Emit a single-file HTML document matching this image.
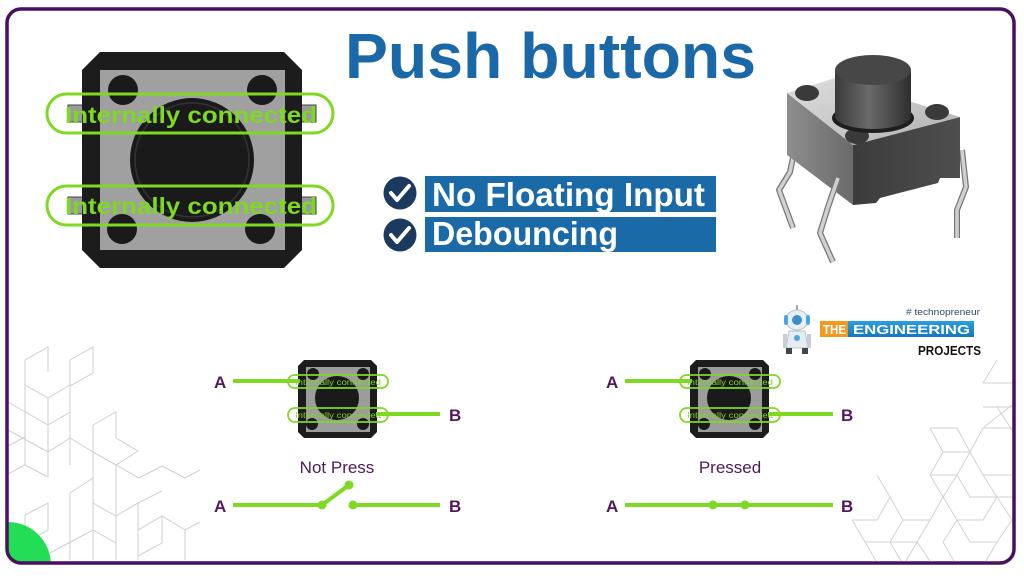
<!DOCTYPE html>
<html>
<head>
<meta charset="utf-8">
<style>
  html,body{margin:0;padding:0;background:#fff;}
  html,body{width:1024px;height:578px;overflow:hidden;}
  svg{display:block;}
  text{font-family:"Liberation Sans", sans-serif;}
</style>
</head>
<body>
<svg width="1024" height="578" viewBox="0 0 1024 578" xmlns="http://www.w3.org/2000/svg">
  <defs>
    <linearGradient id="topface" x1="0" y1="0" x2="1" y2="1">
      <stop offset="0" stop-color="#dedede"/>
      <stop offset="0.6" stop-color="#c4c4c4"/>
      <stop offset="1" stop-color="#acacac"/>
    </linearGradient>
    <linearGradient id="leftface" x1="0" y1="0" x2="1" y2="0">
      <stop offset="0" stop-color="#8e8e8e"/>
      <stop offset="1" stop-color="#6a6a6a"/>
    </linearGradient>
    <linearGradient id="rightface" x1="0" y1="0" x2="1" y2="0">
      <stop offset="0" stop-color="#3c3c3c"/>
      <stop offset="1" stop-color="#4e4e4e"/>
    </linearGradient>
    <linearGradient id="cyl" x1="0" y1="0" x2="1" y2="0">
      <stop offset="0" stop-color="#3a3a3a"/>
      <stop offset="0.45" stop-color="#6a6a6a"/>
      <stop offset="1" stop-color="#2e2e2e"/>
    </linearGradient>
    <linearGradient id="blueband" x1="0" y1="0" x2="0" y2="1">
      <stop offset="0" stop-color="#2a9ee0"/>
      <stop offset="1" stop-color="#1476bf"/>
    </linearGradient>
    <clipPath id="inner">
      <rect x="7" y="9" width="1007" height="554" rx="14" ry="14"/>
    </clipPath>
  </defs>

  <!-- background pattern lines left -->
  <g stroke="#cfcfcf" stroke-width="1" fill="none">
    <path d="M25 360 L25 465 M25 360 L48 347 L48 372 M25 385 L48 398 L70 385 M48 398 L48 477 M70 360 L93 347 L93 373 L70 386 M70 360 L70 465"/>
    <path d="M8 402 L48 425 L70 412 M8 430 L48 452 L70 438 M8 446 L25 437 M8 474 L25 465 L48 477"/>
    <path d="M70 438 L93 452 L116 465 L139 478 L162 466 L185 478 L200 470"/>
    <path d="M93 425 L116 412 L116 438 L138 451 L116 465 L93 452 M93 425 L93 560"/>
    <path d="M70 493 L93 478 M70 493 L70 560 M116 465 L116 560 M93 503 L116 516 L138 503 L162 491 M138 503 L138 560"/>
    <path d="M25 515 L48 503 L48 530 L25 543 M25 515 L25 540"/>
    <path d="M50 553 L93 530 L116 543 M138 530 L162 516 L185 530 L185 560 M138 530 L138 560 M162 516 L162 543 L138 556 M185 530 L200 522"/>
  </g>

  <!-- background pattern lines right -->
  <g stroke="#d2d2d2" stroke-width="1" fill="none">
    <path d="M983 383 L1012 383 M983 383 L997 360 M997 407 L1012 407 M983 407 L997 407 L1012 430"/>
    <path d="M930 428 L957 428 L970 452 L957 475 L930 475 L943 452 L930 428 M943 452 L970 452 L983 475 L1012 475 M970 452 L983 428 L1012 428 M957 475 L970 497 L1012 497 M983 475 L997 497 M983 428 L1012 405"/>
    <path d="M852 520 L877 520 L890 497 L903 520 L930 520 L943 497 L957 520 L983 520 L997 497 L1012 520"/>
    <path d="M852 520 L865 542 L890 542 L903 520 M890 542 L917 542 L930 520 M917 542 L930 561 M943 497 L930 475 M943 497 L957 475 M957 520 L970 542 L997 542 L1012 520 M865 542 L876 561 M890 542 L901 561 M917 542 L906 561 M943 542 L957 520 M943 542 L954 561 M997 542 L986 561 M890 497 L877 475"/>
  </g>

  <!-- green quarter circle -->
  <g clip-path="url(#inner)">
    <path d="M8 522 A43 43 0 0 1 51 565 L8 565 Z" fill="#22dd55"/>
  </g>

  <!-- border -->
  <rect x="7" y="9" width="1007" height="554" rx="14" ry="14" fill="none" stroke="#4a0f5e" stroke-width="3.5"/>

  <!-- Title -->
  <text x="345" y="78" font-size="64" font-weight="bold" fill="#1a68a8" textLength="411" lengthAdjust="spacingAndGlyphs">Push buttons</text>

  <!-- Left big push button top view -->
  <g>
    <rect x="68" y="105" width="16" height="17" fill="#9a9a9a" stroke="#444" stroke-width="1"/>
    <rect x="300" y="105" width="16" height="17" fill="#9a9a9a" stroke="#444" stroke-width="1"/>
    <rect x="68" y="197" width="16" height="17" fill="#9a9a9a" stroke="#444" stroke-width="1"/>
    <rect x="300" y="197" width="16" height="17" fill="#9a9a9a" stroke="#444" stroke-width="1"/>
    <polygon points="100,52 284,52 302,70 302,250 284,268 100,268 82,250 82,70" fill="#1c1c1c"/>
    <rect x="100" y="70" width="185" height="180" fill="#a0a0a0"/>
    <circle cx="123" cy="90" r="15" fill="#1a1a1a"/>
    <circle cx="262" cy="90" r="15" fill="#1a1a1a"/>
    <circle cx="122" cy="229" r="15" fill="#1a1a1a"/>
    <circle cx="260" cy="229" r="15" fill="#1a1a1a"/>
    <circle cx="192" cy="160" r="62" fill="#1a1a1a"/>
    <circle cx="192" cy="160" r="57" fill="none" stroke="#333" stroke-width="1.5"/>
    <rect x="47" y="94" width="286" height="39" rx="19.5" fill="none" stroke="#7fd823" stroke-width="3"/>
    <text x="65" y="123" font-size="23" font-weight="bold" fill="#7fd823" textLength="252" lengthAdjust="spacingAndGlyphs">Internally connected</text>
    <rect x="47" y="186" width="286" height="39" rx="19.5" fill="none" stroke="#7fd823" stroke-width="3"/>
    <text x="65" y="214" font-size="23" font-weight="bold" fill="#7fd823" textLength="252" lengthAdjust="spacingAndGlyphs">Internally connected</text>
  </g>

  <!-- Checks -->
  <rect x="425" y="176" width="291" height="36" fill="#1a6aa8"/>
  <rect x="425" y="217" width="291" height="35" fill="#1a6aa8"/>
  <circle cx="400" cy="193" r="16.5" fill="#1c3a5e"/>
  <circle cx="400" cy="235" r="16.5" fill="#1c3a5e"/>
  <polyline points="391,193 397,200 409,186" fill="none" stroke="#fff" stroke-width="4" stroke-linecap="round" stroke-linejoin="round"/>
  <polyline points="391,235 397,242 409,228" fill="none" stroke="#fff" stroke-width="4" stroke-linecap="round" stroke-linejoin="round"/>
  <text x="432" y="206" font-size="33" font-weight="bold" fill="#fff" textLength="273" lengthAdjust="spacingAndGlyphs">No Floating Input</text>
  <text x="432" y="245" font-size="33" font-weight="bold" fill="#fff" textLength="186" lengthAdjust="spacingAndGlyphs">Debouncing</text>

  <!-- 3D push button -->
  <g>
    <polyline points="797,138 790,172 779,190 793,228" fill="none" stroke="#777" stroke-width="6" stroke-linejoin="round"/>
    <polyline points="797,138 790,172 779,190 793,228" fill="none" stroke="#d0d0d0" stroke-width="3.5" stroke-linejoin="round"/>
    <polyline points="962,150 966,187 957,210 957,238" fill="none" stroke="#777" stroke-width="6" stroke-linejoin="round"/>
    <polyline points="962,150 966,187 957,210 957,238" fill="none" stroke="#d0d0d0" stroke-width="3.5" stroke-linejoin="round"/>
    <polygon points="787,93 853,145 853,205 787,155" fill="url(#leftface)"/>
    <polygon points="853,145 960,117 960,178 940,178 938,183 880,198 876,203 853,205" fill="url(#rightface)"/>
    <polygon points="787,93 835,78 960,117 853,145" fill="url(#topface)"/>
    <ellipse cx="807" cy="93" rx="12" ry="8" fill="#3a3a3a"/>
    <ellipse cx="937" cy="112" rx="12" ry="8" fill="#3a3a3a"/>
    <ellipse cx="857" cy="136" rx="12" ry="8" fill="#3a3a3a"/>
    <ellipse cx="873" cy="118" rx="41" ry="15" fill="#1e1e1e"/>
    <rect x="835" y="70" width="76" height="46" fill="url(#cyl)"/>
    <ellipse cx="873" cy="116" rx="38" ry="13" fill="url(#cyl)"/>
    <ellipse cx="873" cy="70" rx="38" ry="15" fill="#474747"/>
    <polyline points="838,178 828,207 820,233 833,262" fill="none" stroke="#777" stroke-width="6" stroke-linejoin="round"/>
    <polyline points="838,178 828,207 820,233 833,262" fill="none" stroke="#d0d0d0" stroke-width="3.5" stroke-linejoin="round"/>
  </g>

  <!-- Logo -->
  <g>
    <ellipse cx="797" cy="320" rx="11" ry="10" fill="#e8eef2" stroke="#b8c4cc" stroke-width="1"/>
    <circle cx="797" cy="320" r="5" fill="#3a8fc8"/>
    <rect x="784" y="315" width="4" height="10" rx="2" fill="#49a8e0"/>
    <rect x="806" y="315" width="4" height="10" rx="2" fill="#49a8e0"/>
    <rect x="796" y="305" width="2" height="5" fill="#aaa"/>
    <path d="M789 331 L805 331 L808 348 L786 348 Z" fill="#e6ecf0" stroke="#b8c4cc" stroke-width="1"/>
    <circle cx="797" cy="338" r="3" fill="#49a8e0"/>
    <rect x="783" y="334" width="4" height="14" fill="#c6cfd6"/>
    <rect x="807" y="334" width="4" height="14" fill="#c6cfd6"/>
    <rect x="786" y="348" width="6" height="6" fill="#444"/>
    <rect x="802" y="348" width="6" height="6" fill="#444"/>
    <text x="906" y="315" font-size="9.5" fill="#2a4a6a" textLength="74" lengthAdjust="spacingAndGlyphs"># technopreneur</text>
    <rect x="820" y="321" width="28" height="16" fill="#f39a1e"/>
    <rect x="848" y="321" width="126" height="16" fill="url(#blueband)"/>
    <text x="823" y="334" font-size="13" font-weight="bold" fill="#fff" textLength="23" lengthAdjust="spacingAndGlyphs">THE</text>
    <text x="853" y="334" font-size="13" font-weight="bold" fill="#fff" textLength="117" lengthAdjust="spacingAndGlyphs">ENGINEERING</text>
    <text x="918" y="355" font-size="12.5" font-weight="bold" fill="#111" textLength="63" lengthAdjust="spacingAndGlyphs">PROJECTS</text>
  </g>

  <!-- Bottom-left schematic (Not Press) -->
  <g>
    <polygon points="304,360 371,360 377,366 377,432 371,438 304,438 298,432 298,366" fill="#1c1c1c"/>
    <rect x="306" y="367" width="64" height="65" fill="#9c9c9c"/>
    <circle cx="313" cy="374" r="6" fill="#1a1a1a"/>
    <circle cx="363" cy="374" r="6" fill="#1a1a1a"/>
    <circle cx="312" cy="424" r="6" fill="#1a1a1a"/>
    <circle cx="363" cy="424" r="6" fill="#1a1a1a"/>
    <circle cx="337" cy="398" r="22" fill="#1a1a1a"/>
    <line x1="233" y1="381" x2="300" y2="381" stroke="#7fd823" stroke-width="4"/>
    <line x1="376" y1="414" x2="440" y2="414" stroke="#7fd823" stroke-width="4"/>
    <rect x="288" y="375" width="100" height="13" rx="6.5" fill="none" stroke="#7fd823" stroke-width="1.8"/>
    <rect x="288" y="408" width="100" height="14" rx="7" fill="none" stroke="#7fd823" stroke-width="1.8"/>
    <text x="295" y="385" font-size="8" fill="#7fd823" textLength="86" lengthAdjust="spacingAndGlyphs">Internally connected</text>
    <text x="295" y="418" font-size="8" fill="#7fd823" textLength="86" lengthAdjust="spacingAndGlyphs">Internally connected</text>
    <text x="214" y="388" font-size="17" font-weight="bold" fill="#55175f">A</text>
    <text x="449" y="421" font-size="17" font-weight="bold" fill="#55175f">B</text>
    <text x="337" y="473" font-size="17" fill="#4e1a58" text-anchor="middle">Not Press</text>
    <text x="214" y="512" font-size="17" font-weight="bold" fill="#55175f">A</text>
    <text x="449" y="512" font-size="17" font-weight="bold" fill="#55175f">B</text>
    <line x1="233" y1="505" x2="322" y2="505" stroke="#7fd823" stroke-width="4"/>
    <line x1="322" y1="505" x2="349" y2="485" stroke="#7fd823" stroke-width="4"/>
    <line x1="353" y1="505" x2="440" y2="505" stroke="#7fd823" stroke-width="4"/>
    <circle cx="322" cy="505" r="4.5" fill="#7fd823"/>
    <circle cx="349" cy="485" r="4.5" fill="#7fd823"/>
    <circle cx="353" cy="505" r="4.5" fill="#7fd823"/>
  </g>

  <!-- Bottom-right schematic (Pressed) -->
  <g>
    <polygon points="696,360 763,360 769,366 769,432 763,438 696,438 690,432 690,366" fill="#1c1c1c"/>
    <rect x="698" y="367" width="64" height="65" fill="#9c9c9c"/>
    <circle cx="705" cy="374" r="6" fill="#1a1a1a"/>
    <circle cx="755" cy="374" r="6" fill="#1a1a1a"/>
    <circle cx="704" cy="424" r="6" fill="#1a1a1a"/>
    <circle cx="755" cy="424" r="6" fill="#1a1a1a"/>
    <circle cx="729" cy="398" r="22" fill="#1a1a1a"/>
    <line x1="625" y1="381" x2="692" y2="381" stroke="#7fd823" stroke-width="4"/>
    <line x1="768" y1="414" x2="833" y2="414" stroke="#7fd823" stroke-width="4"/>
    <rect x="680" y="375" width="100" height="13" rx="6.5" fill="none" stroke="#7fd823" stroke-width="1.8"/>
    <rect x="680" y="408" width="100" height="14" rx="7" fill="none" stroke="#7fd823" stroke-width="1.8"/>
    <text x="687" y="385" font-size="8" fill="#7fd823" textLength="86" lengthAdjust="spacingAndGlyphs">Internally connected</text>
    <text x="687" y="418" font-size="8" fill="#7fd823" textLength="86" lengthAdjust="spacingAndGlyphs">Internally connected</text>
    <text x="606" y="388" font-size="17" font-weight="bold" fill="#55175f">A</text>
    <text x="841" y="421" font-size="17" font-weight="bold" fill="#55175f">B</text>
    <text x="730" y="473" font-size="17" fill="#4e1a58" text-anchor="middle">Pressed</text>
    <text x="606" y="512" font-size="17" font-weight="bold" fill="#55175f">A</text>
    <text x="841" y="512" font-size="17" font-weight="bold" fill="#55175f">B</text>
    <line x1="625" y1="505" x2="833" y2="505" stroke="#7fd823" stroke-width="4"/>
    <circle cx="713" cy="505" r="4.5" fill="#7fd823"/>
    <circle cx="745" cy="505" r="4.5" fill="#7fd823"/>
  </g>
</svg>
</body>
</html>
